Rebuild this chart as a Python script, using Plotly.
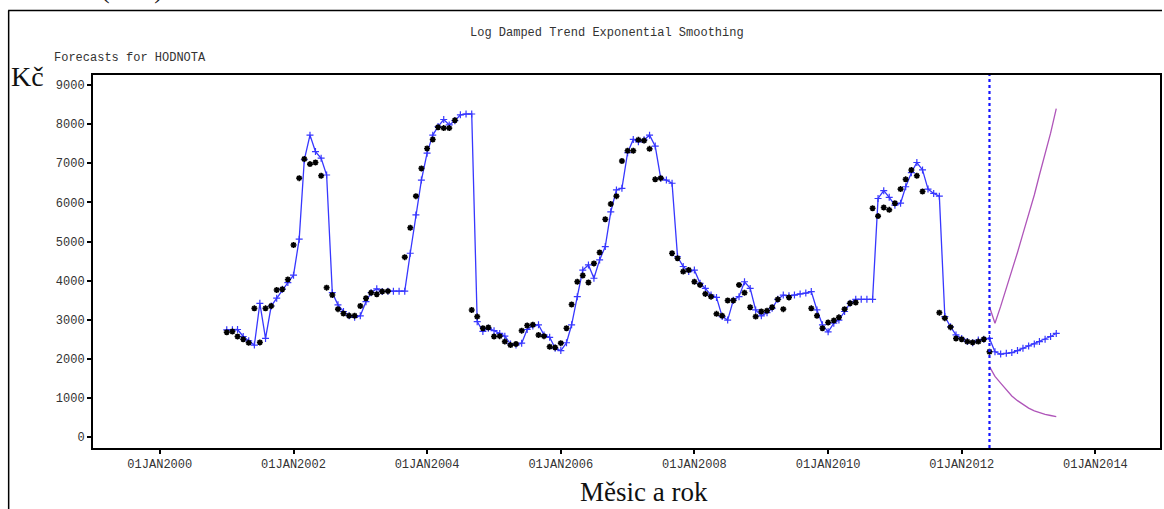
import plotly.graph_objects as go
import pandas as pd

# ---------------- data ----------------
months = pd.date_range("2001-01-01", periods=150, freq="MS")

# actual values (stars), Jan 2001 .. Jun 2012 ; None = missing
actual = [
    2680, 2700, 2570, 2500, 2410, 3290, 2420, 3290, 3350, 3760, 3780, 4030,
    4910, 6620, 7110, 6980, 7020, 6680, 3820, 3630, 3270, 3160, 3100, 3100,
    3350, 3550, 3690, 3650, 3720, 3730, None, None, 4600, 5350, 6160, 6870,
    7380, 7610, 7920, 7900, 7900, 8100, None, None, 3250, 3080, 2780, 2800,
    2570, 2580, 2440, 2350, 2380, 2720, 2850, 2870, 2610, 2580, 2310, 2290,
    2400, 2780, 3390, 3970, 4130, 3950, 4440, 4720, 5570, 5960, 6160, 7060,
    7320, 7320, 7600, 7580, 7370, 6590, 6620, None, 4700, 4570, 4230, 4270,
    3970, 3890, 3660, 3590, 3150, 3100, 3490, 3490, 3890, 3690, 3320, 3080,
    3210, 3230, 3320, 3520, 3270, 3570, None, None, None, 3290, 3100, 2780,
    2930, 2980, 3060, 3270, 3420, 3440, None, None, 5850, 5650, 5870, 5810,
    5980, 6340, 6590, 6830, 6680, 6280, None, None, 3180, 3040, 2810, 2520,
    2500, 2440, 2420, 2440, 2500, 2180,
]

# one-step-ahead predictions and forecasts (blue), Jan 2001 .. Jun 2013
predicted = [
    2740, 2740, 2750, 2570, 2460, 2350, 3420, 2520, 3350, 3550, 3780, 3950,
    4140, 5060, 7090, 7720, 7300, 7130, 6700, 3690, 3380, 3210, 3100, 3060,
    3100, 3460, 3690, 3790, 3720, 3730, 3730, 3730, 3730, 4700, 5680, 6570,
    7260, 7720, 7940, 8120, 7980, 8090, 8240, 8260, 8260, 2950, 2700, 2780,
    2720, 2650, 2580, 2380, 2350, 2400, 2750, 2840, 2870, 2610, 2550, 2270,
    2210, 2410, 2870, 3590, 4270, 4400, 4060, 4530, 4870, 5760, 6320, 6360,
    7270, 7610, 7550, 7600, 7720, 7440, 6620, 6570, 6490, 4610, 4360, 4230,
    4270, 3930, 3800, 3630, 3570, 3080, 2990, 3500, 3590, 3970, 3800, 3250,
    3100, 3180, 3290, 3520, 3630, 3610, 3630, 3660, 3680, 3720, 3250, 2870,
    2690, 2910, 2990, 3210, 3420, 3520, 3520, 3520, 3520, 6100, 6300, 6130,
    5930, 5980, 6400, 6760, 7020, 6830, 6340, 6230, 6160, 3080, 2820, 2610,
    2520, 2440, 2410, 2480, 2500, 2520,
    2180, 2120, 2140, 2160, 2210, 2270, 2330, 2380, 2440, 2500, 2570, 2650,
]

# confidence limits, Jun 2012 .. Jun 2013
upper = [3330, 2910, 3340, 3790, 4250, 4720, 5200, 5690, 6190, 6700, 7220, 7770, 8400]
lower = [1800, 1550, 1380, 1200, 1050, 930, 830, 740, 670, 620, 580, 550, 520]

forecast_start = "2012-06-01"

y_ticks = [0, 1000, 2000, 3000, 4000, 5000, 6000, 7000, 8000, 9000]
x_tick_dates = ["2000-01-01", "2002-01-01", "2004-01-01", "2006-01-01",
                "2008-01-01", "2010-01-01", "2012-01-01", "2014-01-01"]
x_tick_labels = ["01JAN2000", "01JAN2002", "01JAN2004", "01JAN2006",
                 "01JAN2008", "01JAN2010", "01JAN2012", "01JAN2014"]

# ---------------- layout geometry ----------------
W, H = 1164, 509
L, R, T, B = 93, 1162, 75, 448


def px(xp):
    return (xp - L) / (R - L)


def py(yp):
    return (B - yp) / (B - T)


mono = "Liberation Mono"
serif = "Liberation Serif"
blue = "rgb(55,55,255)"
purple = "rgb(175,85,185)"

fig = go.Figure()

fig.add_trace(go.Scatter(
    x=months, y=predicted, mode="lines+markers",
    line=dict(color=blue, width=1.3),
    marker=dict(symbol="cross-thin", size=5, color=blue, line=dict(color=blue, width=1.2)),
    showlegend=False, hoverinfo="x+y",
))
fig.add_trace(go.Scatter(
    x=months[:len(actual)], y=actual, mode="markers",
    marker=dict(symbol="asterisk", size=5, color="black",
                line=dict(color="black", width=1.6)),
    showlegend=False, hoverinfo="x+y",
))
fc_months = months[len(actual) - 1:]
fig.add_trace(go.Scatter(
    x=fc_months, y=upper, mode="lines",
    line=dict(color=purple, width=1.3), showlegend=False,
))
fig.add_trace(go.Scatter(
    x=fc_months, y=lower, mode="lines",
    line=dict(color=purple, width=1.3), showlegend=False,
))

fig.add_shape(type="line", xref="x", yref="paper",
              x0=forecast_start, x1=forecast_start, y0=0, y1=1,
              line=dict(color="rgb(20,20,255)", width=2.2, dash="dot"))

# outer document frame
fig.add_shape(type="line", xref="paper", yref="paper",
              x0=px(8), x1=px(1164), y0=py(10.5), y1=py(10.5),
              line=dict(color="black", width=1.5))
fig.add_shape(type="line", xref="paper", yref="paper",
              x0=px(8.5), x1=px(8.5), y0=py(10.5), y1=py(509),
              line=dict(color="black", width=1.5))

annotations = [
    dict(text="Log Damped Trend Exponential Smoothing", x=px(608), y=py(33),
         xanchor="center", yanchor="middle", font=dict(family=mono, size=12, color="#333")),
    dict(text="Forecasts for HODNOTA", x=px(52), y=py(58),
         xanchor="left", yanchor="middle", font=dict(family=mono, size=12, color="#333")),
    dict(text="Kč", x=px(9), y=py(76),
         xanchor="left", yanchor="middle", font=dict(family=serif, size=28, color="#111")),
    dict(text="Měsic a rok", x=px(645), y=py(492),
         xanchor="center", yanchor="middle", font=dict(family=serif, size=27, color="#111")),
    dict(text="měsících (Kč/t).", x=px(0), y=py(6),
         xanchor="left", yanchor="bottom", font=dict(family=serif, size=26, color="#111")),
]
for a in annotations:
    a.update(xref="paper", yref="paper", showarrow=False)

fig.update_layout(
    width=W, height=H,
    margin=dict(l=L, r=W - R, t=T, b=H - B, pad=0),
    paper_bgcolor="white", plot_bgcolor="white",
    annotations=annotations,
    xaxis=dict(
        type="date", range=["1999-01-01", "2014-12-20"],
        tickvals=x_tick_dates, ticktext=x_tick_labels,
        ticks="outside", ticklen=4, tickwidth=2, tickcolor="black",
        showline=True, linecolor="black", linewidth=2, mirror=True,
        showgrid=False, zeroline=False,
        tickfont=dict(family=mono, size=12, color="#333"),
    ),
    yaxis=dict(
        range=[-281, 9258],
        tickvals=y_ticks,
        ticks="outside", ticklen=4, tickwidth=2, tickcolor="black",
        showline=True, linecolor="black", linewidth=2, mirror=True,
        showgrid=False, zeroline=False,
        tickfont=dict(family=mono, size=12, color="#333"),
    ),
)

fig.write_html("out.html")
